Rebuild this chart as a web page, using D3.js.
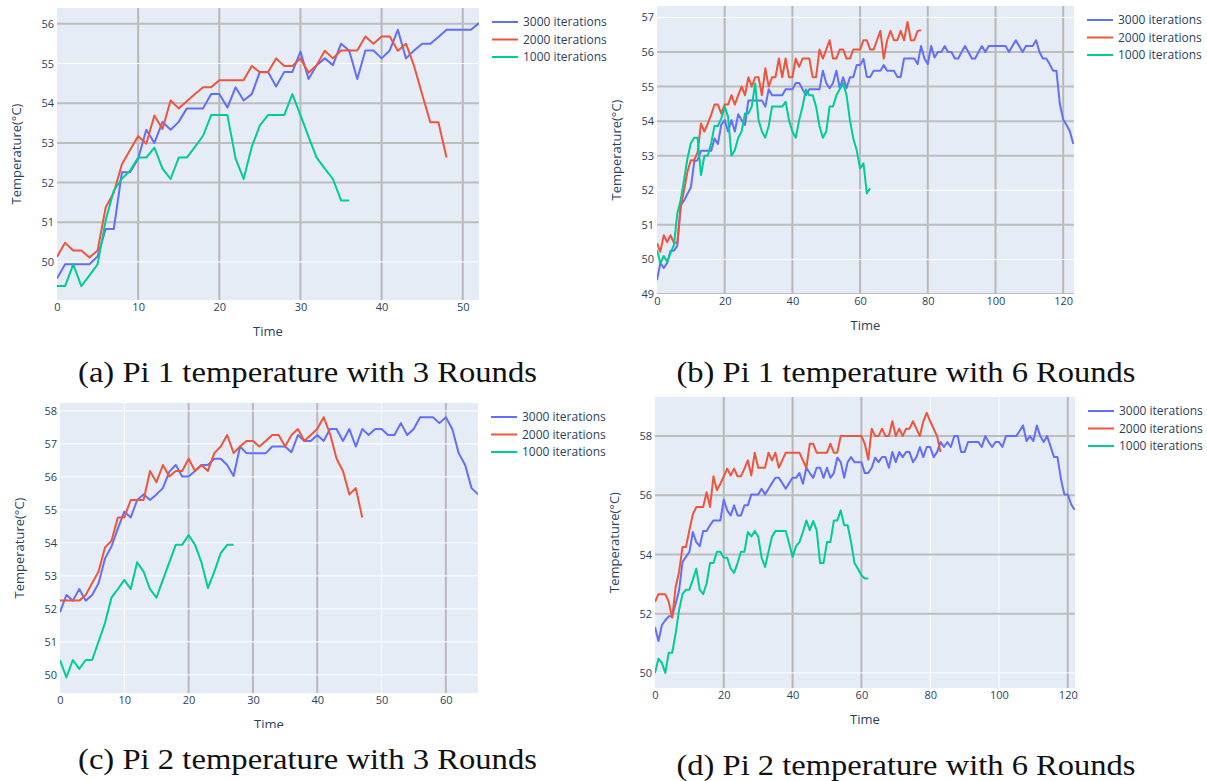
<!DOCTYPE html>
<html>
<head>
<meta charset="utf-8">
<script src="https://cdn.jsdelivr.net/npm/d3@7"></script>
<style>
  body { margin: 0; background: #fff; }
  svg text { font-family: "Open Sans", sans-serif; }
</style>
</head>
<body>
<svg id="fig" width="1207" height="781"></svg>
<script>
// temperature readings, one value per time step (index = Time)
const piA3000 = [49.58, 49.94, 49.94, 49.94, 49.94, 50.14, 50.83, 50.83, 52.26, 52.26,
  52.6, 53.33, 53.0, 53.53, 53.33, 53.53, 53.87, 53.87, 53.87, 54.23,
  54.23, 53.89, 54.4, 54.07, 54.23, 54.79, 54.79, 54.42, 54.79, 54.79,
  55.3, 54.61, 54.96, 55.13, 54.96, 55.5, 55.33, 54.61, 55.33, 55.33,
  55.13, 55.33, 55.85, 55.13, 55.33, 55.5, 55.5, 55.67, 55.85, 55.85,
  55.85, 55.85, 56.02];
const piA2000 = [50.13, 50.48, 50.29, 50.29, 50.11, 50.29, 51.37, 51.75, 52.46, 52.82,
  53.17, 52.98, 53.69, 53.35, 54.07, 53.87, 54.05, 54.23, 54.4, 54.4,
  54.58, 54.58, 54.58, 54.58, 54.94, 54.78, 54.78, 55.13, 54.94, 54.94,
  55.13, 54.77, 54.96, 55.32, 55.13, 55.33, 55.33, 55.33, 55.68, 55.5,
  55.68, 55.68, 55.32, 55.5, 54.94, 54.22, 53.52, 53.52, 52.63];
const piA1000 = [49.39, 49.39, 49.94, 49.39, 49.66, 49.94, 51.05, 51.8, 52.1, 52.3,
  52.63, 52.63, 52.88, 52.35, 52.09, 52.63, 52.63, 52.9, 53.18, 53.7,
  53.7, 53.7, 52.61, 52.09, 52.9, 53.44, 53.7, 53.7, 53.7, 54.23,
  53.7, 53.15, 52.63, 52.35, 52.09, 51.55, 51.55];

const piB3000 = [49.4, 49.9, 49.75, 49.9, 50.25, 50.25, 50.4, 51.57, 51.7, 51.9,
  52.08, 52.83, 52.87, 53.14, 53.14, 53.14, 53.14, 53.5, 53.34, 53.9,
  54.03, 53.7, 54.03, 53.7, 54.2, 54.03, 53.89, 54.6, 54.6, 54.6,
  54.6, 54.6, 54.42, 54.92, 54.75, 54.75, 54.75, 54.75, 54.92, 54.92,
  54.92, 55.1, 55.1, 54.92, 54.75, 54.92, 54.92, 54.92, 54.92, 55.46,
  55.1, 54.95, 55.1, 55.46, 54.95, 55.27, 54.95, 55.27, 55.27, 55.62,
  55.62, 55.8, 55.28, 55.28, 55.46, 55.46, 55.46, 55.62, 55.46, 55.46,
  55.46, 55.28, 55.28, 55.81, 55.81, 55.81, 55.81, 55.65, 56.17, 55.81,
  55.65, 56.17, 55.84, 56.0, 56.0, 56.17, 56.0, 56.0, 55.81, 55.81,
  56.0, 56.17, 56.0, 55.81, 55.81, 56.0, 56.17, 56.0, 56.17, 56.17,
  56.17, 56.17, 56.17, 56.17, 56.0, 56.17, 56.34, 56.17, 56.0, 56.17,
  56.17, 56.17, 56.34, 56.0, 55.81, 55.81, 55.65, 55.46, 55.46, 54.51,
  54.05, 53.89, 53.7, 53.34];
const piB2000 = [50.47, 50.22, 50.7, 50.5, 50.7, 50.48, 50.48, 51.5, 52.0, 52.54,
  52.87, 52.87, 53.1, 53.93, 53.7, 53.93, 54.18, 54.48, 54.48, 54.22,
  54.48, 54.48, 54.75, 54.48, 54.75, 55.0, 54.75, 55.27, 55.0, 55.27,
  55.27, 54.75, 55.53, 55.0, 55.27, 55.27, 55.81, 55.27, 55.81, 55.27,
  55.27, 55.81, 55.57, 55.81, 55.81, 55.81, 55.27, 55.27, 56.07, 55.81,
  56.07, 56.34, 55.81, 55.81, 56.07, 56.07, 55.81, 55.81, 56.07, 56.07,
  56.07, 56.34, 56.34, 56.07, 56.07, 56.34, 56.61, 55.81, 56.34, 56.61,
  56.34, 56.34, 56.61, 56.34, 56.87, 56.34, 56.34, 56.61, 56.63];
const piB1000 = [50.27, 49.89, 50.1, 49.93, 50.18, 50.42, 51.33, 51.72, 52.3, 52.92,
  53.36, 53.52, 53.52, 52.44, 53.0, 53.0, 53.36, 53.86, 53.86, 54.08,
  54.42, 54.13, 53.0, 53.16, 53.52, 53.7, 54.22, 54.22, 54.42, 55.09,
  54.03, 53.7, 53.52, 53.86, 54.42, 54.42, 54.42, 54.42, 54.56, 54.03,
  53.7, 53.52, 54.03, 54.42, 54.92, 54.75, 54.75, 54.42, 53.86, 53.52,
  53.7, 54.42, 54.42, 54.75, 54.92, 55.1, 54.75, 54.03, 53.5, 53.16,
  52.63, 52.78, 51.91, 52.06];

const piC3000 = [51.9, 52.42, 52.25, 52.6, 52.25, 52.42, 52.78, 53.53, 53.89, 54.44,
  54.95, 54.77, 55.3, 55.47, 55.3, 55.47, 55.66, 56.16, 56.36, 56.01,
  56.01, 56.18, 56.36, 56.36, 56.55, 56.55, 56.36, 56.03, 56.92, 56.72,
  56.72, 56.72, 56.72, 56.92, 56.92, 56.92, 56.75, 57.27, 57.09, 57.09,
  57.27, 57.09, 57.45, 57.45, 57.09, 57.45, 56.92, 57.45, 57.27, 57.45,
  57.45, 57.27, 57.27, 57.63, 57.27, 57.45, 57.81, 57.81, 57.81, 57.63,
  57.81, 57.45, 56.72, 56.36, 55.66, 55.47];
const piC2000 = [52.25, 52.25, 52.25, 52.25, 52.42, 52.78, 53.13, 53.86, 54.06, 54.77,
  54.77, 55.3, 55.3, 55.3, 56.18, 55.84, 56.36, 56.01, 56.18, 56.18,
  56.55, 56.18, 56.36, 56.18, 56.72, 56.92, 57.27, 56.72, 56.92, 57.09,
  57.09, 56.92, 57.09, 57.27, 57.27, 56.92, 57.27, 57.45, 57.09, 57.27,
  57.45, 57.81, 57.3, 56.56, 56.18, 55.47, 55.66, 54.77];
const piC1000 = [50.45, 49.92, 50.45, 50.18, 50.45, 50.45, 51.01, 51.57, 52.34, 52.6,
  52.88, 52.6, 53.41, 53.13, 52.6, 52.34, 52.88, 53.41, 53.94, 53.94,
  54.24, 53.94, 53.41, 52.63, 53.13, 53.69, 53.94, 53.94];

const piD3000 = [51.55, 51.08, 51.61, 51.78, 51.91, 51.91, 52.34, 52.79, 53.75, 53.92,
  54.09, 54.76, 54.42, 54.28, 54.79, 54.79, 54.99, 55.15, 55.15, 55.15,
  55.85, 55.49, 55.32, 55.66, 55.32, 55.32, 55.66, 55.66, 56.03, 56.03,
  56.03, 56.22, 56.03, 56.22, 56.41, 56.59, 56.59, 56.41, 56.22, 56.41,
  56.59, 56.59, 56.75, 56.39, 56.93, 56.75, 56.59, 56.93, 56.93, 56.59,
  56.93, 56.59, 56.75, 57.27, 57.12, 56.59, 57.12, 57.29, 57.12, 57.12,
  57.12, 56.75, 56.75, 56.93, 57.27, 57.12, 57.29, 57.29, 56.93, 57.46,
  57.12, 57.46, 57.29, 57.46, 57.46, 57.12, 57.29, 57.63, 57.29, 57.63,
  57.63, 57.29, 57.46, 57.8, 57.63, 57.8, 57.63, 58.0, 58.0, 57.46,
  57.46, 57.8, 57.8, 57.8, 57.8, 57.63, 58.0, 57.8, 57.63, 57.8,
  57.8, 57.63, 58.0, 58.0, 58.0, 58.0, 58.17, 58.36, 57.83, 58.0,
  57.83, 58.36, 58.0, 57.8, 58.0, 57.65, 57.29, 57.29, 56.56, 56.03,
  56.03, 55.69, 55.51];
const piD2000 = [52.4, 52.66, 52.66, 52.66, 52.4, 51.86, 52.9, 53.41, 54.25, 54.25,
  54.82, 55.36, 55.6, 55.6, 55.6, 56.1, 55.6, 56.64, 56.17, 56.39,
  56.64, 56.9, 56.67, 56.9, 56.64, 56.64, 56.9, 57.18, 56.67, 57.44,
  56.93, 56.93, 56.93, 57.44, 57.18, 57.44, 56.93, 57.18, 57.44, 57.44,
  57.44, 57.44, 57.44, 57.18, 56.93, 57.74, 57.74, 57.44, 57.44, 57.44,
  57.44, 57.74, 57.44, 57.44, 58.0, 58.0, 58.0, 58.0, 58.0, 58.0,
  58.0, 57.74, 57.2, 58.25, 58.0, 58.0, 58.25, 58.0, 58.0, 58.5,
  58.0, 58.25, 58.0, 58.25, 58.25, 58.5, 58.25, 58.0, 58.5, 58.78,
  58.5, 58.25, 58.0, 57.46];
const piD1000 = [50.0, 50.48, 50.34, 50.0, 50.68, 50.68, 51.33, 52.12, 52.66, 52.81,
  52.81, 53.15, 53.52, 52.81, 52.66, 53.02, 53.71, 53.71, 54.09, 54.09,
  53.89, 53.89, 53.52, 53.38, 53.71, 54.09, 54.09, 54.76, 54.61, 54.79,
  54.61, 53.89, 53.58, 54.09, 54.61, 54.79, 54.79, 54.79, 54.79, 54.37,
  53.92, 54.28, 54.42, 54.76, 55.15, 54.82, 55.13, 54.82, 53.71, 53.71,
  54.42, 54.42, 55.15, 55.15, 55.49, 54.99, 54.99, 54.42, 53.71, 53.52,
  53.3, 53.19, 53.19];

const seriesNames = ['3000 iterations', '2000 iterations', '1000 iterations'];
const seriesColors = ['#636efa', '#ef553b', '#00cc96'];

// layout of the four sub-figures (pixel boxes, axis ranges, which grid lines print darker)
const panels = [
  { box: [57, 8, 479, 300], xDomain: [0, 52], yDomain: [49.04, 56.4],
    xTicks: [0, 10, 20, 30, 40, 50], yTicks: [50, 51, 52, 53, 54, 55, 56],
    darkX: [10, 20, 30, 40, 50], darkY: [51, 52, 53, 54, 56],
    data: [piA3000, piA2000, piA1000],
    caption: '(a) Pi 1 temperature with 3 Rounds', capX: 307.5, capY: 382 },
  { box: [657, 6, 1074, 294], xDomain: [0, 123.2], yDomain: [49, 57.33],
    xTicks: [0, 20, 40, 60, 80, 100, 120], yTicks: [49, 50, 51, 52, 53, 54, 55, 56, 57],
    darkX: [20, 40, 60, 80, 100, 120], darkY: [49, 51, 53, 54, 55, 56],
    data: [piB3000, piB2000, piB1000],
    caption: '(b) Pi 1 temperature with 6 Rounds', capX: 906, capY: 382 },
  { box: [60, 403, 478, 693], xDomain: [0, 65], yDomain: [49.45, 58.24],
    xTicks: [0, 10, 20, 30, 40, 50, 60], yTicks: [50, 51, 52, 53, 54, 55, 56, 57, 58],
    darkX: [20, 30, 40, 60], darkY: [],
    data: [piC3000, piC2000, piC1000], clipBottom: 728,
    caption: '(c) Pi 2 temperature with 3 Rounds', capX: 307.5, capY: 769 },
  { box: [655, 397, 1075, 688], xDomain: [0, 122.1], yDomain: [49.49, 59.32],
    xTicks: [0, 20, 40, 60, 80, 100, 120], yTicks: [50, 52, 54, 56, 58],
    darkX: [20, 40, 60, 120], darkY: [52, 54, 56, 58],
    data: [piD3000, piD2000, piD1000],
    caption: '(d) Pi 2 temperature with 6 Rounds', capX: 906, capY: 775 }
];

const svg = d3.select('#fig');
const defs = svg.append('defs');
const textColor = '#2a3f5f';

panels.forEach(function (p, pi) {
  const [left, top, right, bottom] = p.box;
  const x = d3.scaleLinear().domain(p.xDomain).range([left, right]);
  const y = d3.scaleLinear().domain(p.yDomain).range([bottom, top]);

  let g = svg.append('g');
  if (p.clipBottom) {
    // the original sub-figure was cropped just below its x-axis title
    defs.append('clipPath').attr('id', 'cut' + pi)
      .append('rect').attr('x', 0).attr('y', top - 20).attr('width', 650).attr('height', p.clipBottom - top + 20);
    g.attr('clip-path', 'url(#cut' + pi + ')');
  }

  defs.append('clipPath').attr('id', 'plot' + pi)
    .append('rect').attr('x', left).attr('y', top).attr('width', right - left).attr('height', bottom - top);

  // plot background
  g.append('rect')
    .attr('x', left).attr('y', top)
    .attr('width', right - left).attr('height', bottom - top)
    .attr('fill', '#e5ecf6');

  // grid lines
  const grid = g.append('g').attr('clip-path', 'url(#plot' + pi + ')');
  grid.selectAll('.gx').data(p.xTicks.filter(function (t) { return t > 0; }))
    .enter().append('line')
    .attr('x1', function (d) { return x(d); }).attr('x2', function (d) { return x(d); })
    .attr('y1', top).attr('y2', bottom)
    .attr('stroke', function (d) { return p.darkX.includes(d) ? '#b8b8b8' : '#ffffff'; })
    .attr('stroke-width', function (d) { return p.darkX.includes(d) ? 2 : 1; });
  grid.selectAll('.gy').data(p.yTicks)
    .enter().append('line')
    .attr('x1', left).attr('x2', right)
    .attr('y1', function (d) { return y(d); }).attr('y2', function (d) { return y(d); })
    .attr('stroke', function (d) { return p.darkY.includes(d) ? '#bdbdbd' : '#ffffff'; })
    .attr('stroke-width', function (d) { return p.darkY.includes(d) ? 2 : 1; });

  // series lines
  const line = d3.line()
    .x(function (d, i) { return x(i); })
    .y(function (d) { return y(d); });
  g.append('g').attr('clip-path', 'url(#plot' + pi + ')')
    .selectAll('path').data(p.data)
    .enter().append('path')
    .attr('d', line)
    .attr('fill', 'none')
    .attr('stroke', function (d, i) { return seriesColors[i]; })
    .attr('stroke-width', 2)
    .attr('stroke-linejoin', 'round');

  // axes (labels only)
  const xAxis = g.append('g')
    .attr('transform', 'translate(0,' + bottom + ')')
    .call(d3.axisBottom(x).tickValues(p.xTicks).tickSize(0).tickPadding(3));
  const yAxis = g.append('g')
    .attr('transform', 'translate(' + left + ',0)')
    .call(d3.axisLeft(y).tickValues(p.yTicks).tickSize(0).tickPadding(3));
  [xAxis, yAxis].forEach(function (a) {
    a.select('.domain').remove();
    a.selectAll('text')
      .attr('fill', textColor)
      .style('font-size', '11px')
      .style('font-family', '"Open Sans", sans-serif');
  });

  // axis titles
  g.append('text')
    .attr('x', (left + right) / 2).attr('y', bottom + 36)
    .attr('text-anchor', 'middle')
    .attr('fill', textColor)
    .style('font-size', '13px')
    .text('Time');
  g.append('text')
    .attr('transform', 'translate(' + (left - 41) + ',' + ((top + bottom) / 2) + ') rotate(-90)')
    .attr('text-anchor', 'middle')
    .attr('dy', '0.35em')
    .attr('fill', textColor)
    .style('font-size', '13px')
    .text('Temperature(°C)');

  // legend
  const legend = g.selectAll('.legend')
    .data(seriesNames)
    .enter().append('g')
    .attr('transform', function (d, i) { return 'translate(' + (right + 13) + ',' + (top + 14 + i * 17.5) + ')'; });
  legend.append('line')
    .attr('x1', 0).attr('x2', 26).attr('y1', 0).attr('y2', 0)
    .attr('stroke', function (d, i) { return seriesColors[i]; })
    .attr('stroke-width', 2);
  legend.append('text')
    .attr('x', 31).attr('dy', '0.35em')
    .attr('fill', textColor)
    .style('font-size', '12px')
    .text(function (d) { return d; });

  // caption
  svg.append('text')
    .attr('x', p.capX).attr('y', p.capY)
    .attr('text-anchor', 'middle')
    .attr('textLength', 459)
    .attr('lengthAdjust', 'spacingAndGlyphs')
    .style('font-family', '"Liberation Serif", "DejaVu Serif", serif')
    .style('font-size', '29px')
    .attr('fill', '#111')
    .text(p.caption);
});
</script>
</body>
</html>
